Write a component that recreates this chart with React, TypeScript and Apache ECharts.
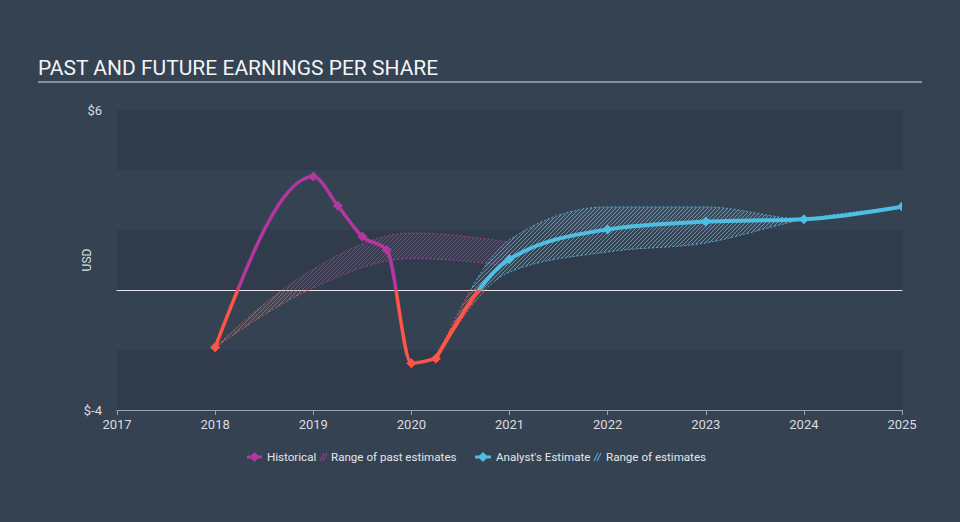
import React, { useEffect, useRef } from 'react';
import * as echarts from 'echarts';

// ---- data ----
const xTicks = [2017, 2018, 2019, 2020, 2021, 2022, 2023, 2024, 2025];
const yLabelValues = [6, -4];

const histX = [2018, 2019, 2019.25, 2019.5, 2019.75, 2020, 2020.25];
const histY = [-1.91, 3.78, 2.81, 1.78, 1.33, -2.44, -2.28];

const pastBandX = [2018, 2019, 2020, 2021];
const pastBandHigh = [-1.91, 0.7, 1.9, 1.6];
const pastBandLow = [-1.91, 0.07, 1.05, 0.8];

const estX = [2020.25, 2021, 2022, 2023, 2024, 2025];
const estY = [-2.28, 1.03, 2.02, 2.28, 2.36, 2.78];
const estBandHigh = [-2.28, 1.67, 2.77, 2.77, 2.37, 2.78];
const estBandLow = [-2.28, 0.6, 1.27, 1.57, 2.35, 2.78];

const C = {
  bg: '#354252',
  band: '#303c4b',
  purple: '#b2379f',
  red: '#ff5448',
  blue: '#4fbee3',
  text: '#e4e7ea',
};

function monoSlopes(xs: number[], ys: number[]) {
  const n = xs.length;
  const m = new Array(n).fill(0);
  if (n < 2) return m;
  const h: number[] = [];
  const s: number[] = [];
  for (let i = 0; i < n - 1; i++) {
    h[i] = xs[i + 1] - xs[i];
    s[i] = (ys[i + 1] - ys[i]) / h[i];
  }
  if (n === 2) {
    m[0] = m[1] = s[0];
    return m;
  }
  for (let i = 1; i < n - 1; i++) {
    const p = (s[i - 1] * h[i] + s[i] * h[i - 1]) / (h[i - 1] + h[i]);
    m[i] = (Math.sign(s[i - 1]) + Math.sign(s[i])) * Math.min(Math.abs(s[i - 1]), Math.abs(s[i]), 0.5 * Math.abs(p)) || 0;
  }
  m[0] = (3 * s[0] - m[1]) / 2;
  m[n - 1] = (3 * s[n - 2] - m[n - 2]) / 2;
  return m;
}

function segments(api: any, xs: number[], ys: number[]) {
  const m = monoSlopes(xs, ys);
  const segs: number[][][] = [];
  for (let i = 1; i < xs.length; i++) {
    const h = xs[i] - xs[i - 1];
    segs.push([
      api.coord([xs[i - 1], ys[i - 1]]),
      api.coord([xs[i - 1] + h / 3, ys[i - 1] + (m[i - 1] * h) / 3]),
      api.coord([xs[i] - h / 3, ys[i] - (m[i] * h) / 3]),
      api.coord([xs[i], ys[i]]),
    ]);
  }
  return segs;
}
const f = (p: number[]) => p[0].toFixed(2) + ' ' + p[1].toFixed(2);
function forwardPath(segs: number[][][]) {
  let d = 'M' + f(segs[0][0]);
  for (const s of segs) d += ' C' + f(s[1]) + ' ' + f(s[2]) + ' ' + f(s[3]);
  return d;
}
function backwardPath(segs: number[][][]) {
  let d = ' L' + f(segs[segs.length - 1][3]);
  for (let i = segs.length - 1; i >= 0; i--) {
    const s = segs[i];
    d += ' C' + f(s[2]) + ' ' + f(s[1]) + ' ' + f(s[0]);
  }
  return d;
}
function diamond(cx: number, cy: number, r: number) {
  return [[cx, cy - r], [cx + r, cy], [cx, cy + r], [cx - r, cy]];
}

function hatch(color: string, tint: string) {
  const c = document.createElement('canvas');
  c.width = 4;
  c.height = 4;
  const ctx = c.getContext('2d')!;
  ctx.fillStyle = tint;
  ctx.fillRect(0, 0, 4, 4);
  ctx.strokeStyle = color;
  ctx.lineWidth = 1;
  ctx.beginPath();
  ctx.moveTo(0, 4); ctx.lineTo(4, 0);
  ctx.moveTo(-1, 1); ctx.lineTo(1, -1);
  ctx.moveTo(3, 5); ctx.lineTo(5, 3);
  ctx.stroke();
  return c;
}

function lineSeries(xs: number[], ys: number[], color: string, width: number, g: number, skipFirst: boolean) {
  return {
    type: 'custom',
    xAxisIndex: g,
    yAxisIndex: g,
    clip: true,
    silent: true,
    data: xs.map((x, i) => [x, ys[i]]),
    encode: { x: 0, y: 1 },
    renderItem: (params: any, api: any) => {
      const i = params.dataIndex;
      const children: any[] = [];
      if (i === 0) {
        children.push({
          type: 'path',
          shape: { pathData: forwardPath(segments(api, xs, ys)) },
          style: { fill: 'none', stroke: color, lineWidth: width, lineCap: 'round', lineJoin: 'round' },
        });
      }
      if (!(skipFirst && i === 0)) {
        const p = api.coord([api.value(0), api.value(1)]);
        children.push({ type: 'polygon', shape: { points: diamond(p[0], p[1], 5) }, style: { fill: color } });
      }
      return { type: 'group', children };
    },
  };
}

function bandSeries(xs: number[], hi: number[], lo: number[], color: string, pattern: HTMLCanvasElement, g: number) {
  return {
    type: 'custom',
    xAxisIndex: g,
    yAxisIndex: g,
    clip: true,
    silent: true,
    data: xs.map((x, i) => [x, lo[i], hi[i]]),
    encode: { x: 0, y: [1, 2] },
    renderItem: (params: any, api: any) => {
      if (params.dataIndex !== 0) return null;
      const up = segments(api, xs, hi);
      const dn = segments(api, xs, lo);
      const upD = forwardPath(up);
      const dnD = forwardPath(dn);
      const area = upD + backwardPath(dn) + ' Z';
      return {
        type: 'group',
        children: [
          { type: 'path', shape: { pathData: area }, style: { fill: { image: pattern, repeat: 'repeat', imageWidth: 4, imageHeight: 4 } } },
          { type: 'path', shape: { pathData: upD }, style: { fill: 'none', stroke: color, lineWidth: 1, lineDash: [2, 2], opacity: 0.85 } },
          { type: 'path', shape: { pathData: dnD }, style: { fill: 'none', stroke: color, lineWidth: 1, lineDash: [2, 2], opacity: 0.85 } },
        ],
      };
    },
  };
}

export default function App() {
  const ref = useRef<HTMLDivElement>(null);
  useEffect(() => {
    document.body.style.margin = '0';
    if (!ref.current) return;
    const chart = echarts.init(ref.current, undefined, { renderer: 'svg' });
    const pPurple = hatch('rgba(178,55,159,0.75)', 'rgba(178,55,159,0.08)');
    const pRed = hatch('rgba(255,84,72,0.75)', 'rgba(255,84,72,0.08)');
    const pBlue = hatch('rgba(79,190,227,0.75)', 'rgba(79,190,227,0.08)');

    const grids = [
      { left: 117, width: 785, top: 110, height: 180 },
      { left: 117, width: 785, top: 290, height: 120 },
    ];
    const xAxisBase = {
      type: 'value',
      min: xTicks[0],
      max: xTicks[xTicks.length - 1],
      interval: 1,
      splitLine: { show: false },
    };
    const font = 'Roboto, sans-serif';
    const legendY = 457;
    const legendFont = '11.6px Roboto, sans-serif';
    const option: any = {
      animation: false,
      backgroundColor: C.bg,
      textStyle: { fontFamily: font },
      grid: grids,
      xAxis: [
        {
          ...xAxisBase,
          gridIndex: 0,
          axisLine: { show: true, onZero: false, lineStyle: { color: '#e3e6ea', width: 1 } },
          axisTick: { show: false },
          axisLabel: { show: false },
        },
        {
          ...xAxisBase,
          gridIndex: 1,
          axisLine: { show: true, onZero: false, lineStyle: { color: '#9aa4ae', width: 1 } },
          axisTick: { show: true, length: 5, lineStyle: { color: '#9aa4ae' } },
          axisLabel: { color: '#d9dde1', fontSize: 13, margin: 8, fontFamily: font, formatter: (v: number) => String(v) },
        },
      ],
      yAxis: [
        {
          type: 'value', gridIndex: 0, min: 0, max: 6, interval: 2,
          axisLine: { show: false }, axisTick: { show: false }, splitLine: { show: false },
          splitArea: { show: true, areaStyle: { color: [C.band, C.bg] } },
          axisLabel: { color: '#d9dde1', fontSize: 13, margin: 15, fontFamily: font, formatter: (v: number) => (yLabelValues.includes(v) ? '$' + v : '') },
        },
        {
          type: 'value', gridIndex: 1, min: -4, max: 0, interval: 2,
          axisLine: { show: false }, axisTick: { show: false }, splitLine: { show: false },
          splitArea: { show: true, areaStyle: { color: [C.band, C.bg] } },
          axisLabel: { color: '#d9dde1', fontSize: 13, margin: 15, fontFamily: font, formatter: (v: number) => (yLabelValues.includes(v) ? '$' + v : '') },
        },
      ],
      series: [
        bandSeries(pastBandX, pastBandHigh, pastBandLow, C.purple, pPurple, 0),
        bandSeries(estX, estBandHigh, estBandLow, C.blue, pBlue, 0),
        lineSeries(histX, histY, C.purple, 3.5, 0, false),
        lineSeries(estX, estY, C.blue, 4, 0, true),
        bandSeries(pastBandX, pastBandHigh, pastBandLow, C.red, pRed, 1),
        bandSeries(estX, estBandHigh, estBandLow, C.red, pRed, 1),
        lineSeries(histX, histY, C.red, 3.5, 1, false),
        lineSeries(estX, estY, C.red, 4, 1, true),
      ],
      graphic: [
        {
          type: 'text', x: 38, y: 68,
          style: { text: 'PAST AND FUTURE EARNINGS PER SHARE', fill: '#f2f4f6', font: '21px Roboto, sans-serif', textAlign: 'left', textVerticalAlign: 'middle' },
        },
        { type: 'line', shape: { x1: 38, y1: 82, x2: 922, y2: 82 }, style: { stroke: '#a4acb5', lineWidth: 1.5 } },
        {
          type: 'text', x: 87, y: 260, rotation: Math.PI / 2,
          style: { text: 'USD', fill: '#d9dde1', font: '12px Roboto, sans-serif', textAlign: 'center', textVerticalAlign: 'middle' },
        },
        // legend
        { type: 'line', shape: { x1: 247, y1: legendY, x2: 262, y2: legendY }, style: { stroke: C.purple, lineWidth: 3 } },
        { type: 'polygon', shape: { points: diamond(254.5, legendY, 5) }, style: { fill: C.purple } },
        { type: 'text', x: 267, y: legendY, style: { text: 'Historical', fill: C.text, font: legendFont, textAlign: 'left', textVerticalAlign: 'middle' } },
        { type: 'line', shape: { x1: 320, y1: legendY + 4, x2: 324, y2: legendY - 4 }, style: { stroke: C.purple, lineWidth: 1.2, opacity: 0.8 } },
        { type: 'line', shape: { x1: 323, y1: legendY + 4, x2: 327, y2: legendY - 4 }, style: { stroke: C.purple, lineWidth: 1.2, opacity: 0.8 } },
        { type: 'text', x: 331, y: legendY, style: { text: 'Range of past estimates', fill: C.text, font: legendFont, textAlign: 'left', textVerticalAlign: 'middle' } },
        { type: 'line', shape: { x1: 475, y1: legendY, x2: 491, y2: legendY }, style: { stroke: C.blue, lineWidth: 3 } },
        { type: 'polygon', shape: { points: diamond(483, legendY, 5) }, style: { fill: C.blue } },
        { type: 'text', x: 496, y: legendY, style: { text: "Analyst's Estimate", fill: C.text, font: legendFont, textAlign: 'left', textVerticalAlign: 'middle' } },
        { type: 'line', shape: { x1: 594, y1: legendY + 4, x2: 598, y2: legendY - 4 }, style: { stroke: C.blue, lineWidth: 1.2, opacity: 0.8 } },
        { type: 'line', shape: { x1: 597, y1: legendY + 4, x2: 601, y2: legendY - 4 }, style: { stroke: C.blue, lineWidth: 1.2, opacity: 0.8 } },
        { type: 'text', x: 606, y: legendY, style: { text: 'Range of estimates', fill: C.text, font: legendFont, textAlign: 'left', textVerticalAlign: 'middle' } },
      ],
    };
    chart.setOption(option);
    return () => chart.dispose();
  }, []);
  return <div ref={ref} style={{ position: 'fixed', left: 0, top: 0, width: 960, height: 522 }} />;
}
